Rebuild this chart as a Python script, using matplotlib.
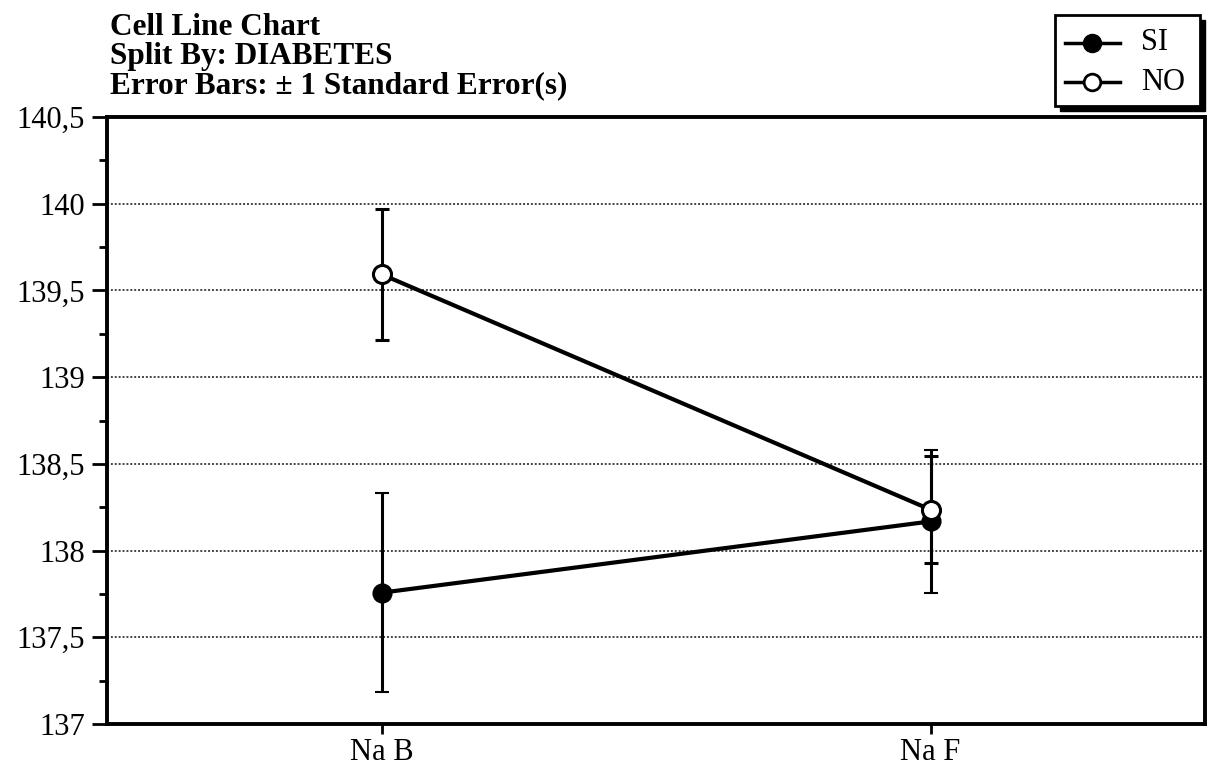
import matplotlib
matplotlib.use("Agg")
import matplotlib.pyplot as plt
from matplotlib.patches import Rectangle
from matplotlib.lines import Line2D
import numpy as np

categories = ["Na B", "Na F"]
si_mean = [137.757, 138.168]
si_se = [0.575, 0.41]
no_mean = [139.593, 138.236]
no_se = [0.379, 0.31]
yticks = [137, 137.5, 138, 138.5, 139, 139.5, 140, 140.5]
ytick_labels = ["137", "137,5", "138", "138,5", "139", "139,5", "140", "140,5"]
title_lines = ["Cell Line Chart", "Split By: DIABETES", "Error Bars: \u00b1 1 Standard Error(s)"]
legend_labels = ["SI", "NO"]

plt.rcParams['font.family'] = ['Liberation Serif', 'DejaVu Serif']

W, H = 1212, 765
fig = plt.figure(figsize=(W/100, H/100), dpi=100)
L, R, T, B = 107, 1205, 117, 724
ax = fig.add_axes([L/W, 1 - B/H, (R-L)/W, (B-T)/H])

x = np.arange(len(categories))
ax.errorbar(x, si_mean, yerr=si_se, color='black', lw=3, marker='o', ms=13,
            mfc='black', mec='black', mew=1.5, ecolor='black', elinewidth=2.2,
            capsize=5, capthick=2.5, zorder=3)
ax.errorbar(x, no_mean, yerr=no_se, color='black', lw=3, marker='o', ms=13,
            mfc='white', mec='black', mew=2.2, ecolor='black', elinewidth=2.2,
            capsize=5, capthick=2.5, zorder=4)

ax.set_xlim(-0.5, 1.5)
ax.set_ylim(137, 140.5)
ax.set_yticks(yticks)
ax.set_yticklabels(ytick_labels)
ax.set_yticks(np.arange(137.25, 140.5, 0.5), minor=True)
ax.set_xticks(x)
ax.set_xticklabels(categories)
ax.tick_params(axis='y', which='major', direction='out', length=11, width=2, labelsize=22, pad=5)
ax.tick_params(axis='y', which='minor', direction='out', length=6, width=2)
ax.tick_params(axis='x', which='major', direction='out', length=7, width=2, labelsize=22, pad=3)
for s in ax.spines.values():
    s.set_linewidth(2.8)
for yv in yticks[1:-1]:
    ax.axhline(yv, color='#444444', lw=1.4, ls=(0, (1, 1)), zorder=1)

for i, line in enumerate(title_lines):
    fig.text(110/W, 1 - (35 + 29*i)/H, line, ha='left', va='baseline',
             fontsize=22.5, fontweight='bold')

# legend box with shadow
lx0, ly0, lx1, ly1 = 1055, 15, 1200, 106
fig.patches.append(Rectangle(((lx0+5)/W, 1 - (ly1+5)/H), (lx1-lx0)/W, (ly1-ly0)/H,
                             transform=fig.transFigure, facecolor='black', edgecolor='black', zorder=5))
fig.patches.append(Rectangle((lx0/W, 1 - ly1/H), (lx1-lx0)/W, (ly1-ly0)/H,
                             transform=fig.transFigure, facecolor='white', edgecolor='black', lw=2, zorder=6))
rows = [(43, 'black'), (82, 'white')]
for (yy, fc), lab in zip(rows, legend_labels):
    fig.lines.append(Line2D([1065/W, 1120/W], [1 - yy/H, 1 - yy/H], transform=fig.transFigure,
                            color='black', lw=2.5, zorder=7))
    fig.lines.append(Line2D([1092/W], [1 - yy/H], transform=fig.transFigure, marker='o', ms=12,
                            mfc=fc, mec='black', mew=2, zorder=8))
    fig.text(1141/W, 1 - yy/H, lab, ha='left', va='center', fontsize=22, zorder=9)

fig.savefig("out.png", dpi=100)
